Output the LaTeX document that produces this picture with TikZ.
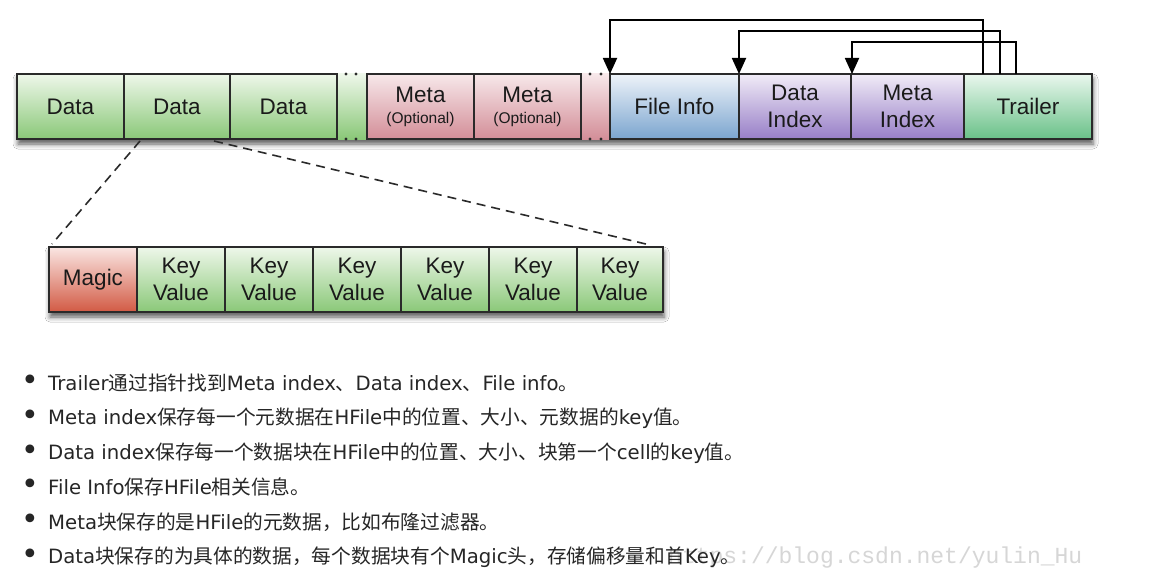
\documentclass[tikz,border=0pt]{standalone}
\usepackage{fontspec}
\setmainfont{Liberation Sans}
\newfontfamily\dv{DejaVu Sans}
\newfontfamily\cjk{Noto Sans CJK SC}
\newfontfamily\wm{Liberation Mono}
\usetikzlibrary{arrows.meta,shadows.blur}
\definecolor{greenT}{HTML}{EEF7EA}
\definecolor{greenB}{HTML}{8AC878}
\definecolor{pinkT}{HTML}{F7E8EA}
\definecolor{pinkB}{HTML}{D38E98}
\definecolor{blueT}{HTML}{EEF3F9}
\definecolor{blueB}{HTML}{7BA5CF}
\definecolor{purpT}{HTML}{F1ECF7}
\definecolor{purpB}{HTML}{977EC7}
\definecolor{trT}{HTML}{EAF7EE}
\definecolor{trB}{HTML}{69C188}
\definecolor{magT}{HTML}{FAE6E3}
\definecolor{magB}{HTML}{D25A44}
\definecolor{bord}{HTML}{2A2A2A}
\definecolor{txt}{HTML}{1A1A1A}
\definecolor{listtxt}{HTML}{262626}
\tikzset{
  cell/.style={draw=bord, line width=1.4pt, anchor=north west, inner sep=0pt, outer sep=0pt,
    minimum height=65pt, align=center, text=txt, font=\fontsize{22.5}{27}\selectfont},
  greencell/.style={top color=greenT, bottom color=greenB},
  pinkcell/.style={top color=pinkT, bottom color=pinkB},
  bluecell/.style={top color=blueT, bottom color=blueB},
  purpcell/.style={top color=purpT, bottom color=purpB},
  trcell/.style={top color=trT, bottom color=trB},
  magcell/.style={top color=magT, bottom color=magB},
  ptr/.style={draw=black, line width=1.8pt, -{Triangle[width=14pt,length=16pt]}},
  zoomline/.style={draw=bord, line width=1.6pt, dash pattern=on 9pt off 6pt},
  rowshadow/.style={fill=white, blur shadow={shadow xshift=1pt, shadow yshift=-5pt, shadow blur radius=5pt, shadow opacity=65}},
  gapdot/.style={fill=bord},
  bullet/.style={anchor=center, inner sep=0pt, text=listtxt, font=\dv\fontsize{30}{30}\selectfont},
  item/.style={anchor=west, inner sep=0pt, text=listtxt, font=\dv\fontsize{19.7}{19.7}\selectfont},
  watermark/.style={anchor=west, inner sep=0pt, text=black!16, font=\wm\fontsize{23}{23}\selectfont}
}
\begin{document}
\begin{tikzpicture}[x=1pt,y=-1pt]
\path[use as bounding box, fill=white] (0,0) rectangle (1159,586);

% shadows
\path[rowshadow] (17,74) rectangle (1092,139);
\path[rowshadow] (49,247) rectangle (663,312);

% gaps
\shade[top color=greenT, bottom color=greenB] (337,74) rectangle (367,139);
\shade[top color=pinkT, bottom color=pinkB] (581,74) rectangle (610,139);
\foreach \gx in {346,356,590,601}{
  \fill[gapdot] (\gx,74) circle (1.6);
  \fill[gapdot] (\gx,139) circle (1.6);
}

% top row
\node[cell, greencell, minimum width=107pt] (d1) at (17,74) {Data};
\node[cell, greencell, minimum width=106pt] (d2) at (124,74) {Data};
\node[cell, greencell, minimum width=107pt] (d3) at (230,74) {Data};
\node[cell, pinkcell, minimum width=107pt] (m1) at (367,74) {Meta\\[-6pt]{\fontsize{15.5}{18}\selectfont (Optional)}};
\node[cell, pinkcell, minimum width=107pt] (m2) at (474,74) {Meta\\[-6pt]{\fontsize{15.5}{18}\selectfont (Optional)}};
\node[cell, bluecell, minimum width=129pt] (fi) at (610,74) {File Info};
\node[cell, purpcell, minimum width=112pt] (di) at (739,74) {Data\\Index};
\node[cell, purpcell, minimum width=113pt] (mi) at (851,74) {Meta\\Index};
\node[cell, trcell, minimum width=128pt] (tr) at (964,74) {Trailer};

% pointers
\draw[ptr] ([xshift=19pt]tr.north west) -- ++(0,-54) -| (fi.north west);
\draw[ptr] ([xshift=36pt]tr.north west) -- ++(0,-43) -| (di.north west);
\draw[ptr] ([xshift=52pt]tr.north west) -- ++(0,-32) -| ([xshift=1pt]mi.north west);

% bottom row
\node[cell, magcell, minimum width=88pt] (mg) at (49,247) {Magic};
\node[cell, greencell, minimum width=88pt] (k1) at (137,247) {Key\\Value};
\node[cell, greencell, minimum width=88pt] (k2) at (225,247) {Key\\Value};
\node[cell, greencell, minimum width=88pt] (k3) at (313,247) {Key\\Value};
\node[cell, greencell, minimum width=88pt] (k4) at (401,247) {Key\\Value};
\node[cell, greencell, minimum width=88pt] (k5) at (489,247) {Key\\Value};
\node[cell, greencell, minimum width=86pt] (k6) at (577,247) {Key\\Value};

% zoom lines
\coordinate (z1) at (140,141);
\coordinate (z2) at (214,141);
\coordinate (z3) at (52,244);
\coordinate (z4) at (650,245);
\draw[zoomline] (z1) -- (z3);
\draw[zoomline] (z2) -- (z4);

% list
\node[watermark] (wm) at (668,558) {https://blog.csdn.net/yulin\_Hu};
\foreach \i/\yy in {1/383,2/418,3/453,4/487,5/522,6/557}{
  \node[bullet] (b\i) at (30,\yy) {•};
}
\node[item] (t1) at (48,383) {Trailer{\cjk 通过指针找到}Meta index{\cjk 、}Data index{\cjk 、}File info{\cjk 。}};
\node[item] (t2) at (48,418) {Meta index{\cjk 保存每一个元数据在}HFile{\cjk 中的位置、大小、元数据的}key{\cjk 值。}};
\node[item] (t3) at (48,453) {Data index{\cjk 保存每一个数据块在}HFile{\cjk 中的位置、大小、块第一个}cell{\cjk 的}key{\cjk 值。}};
\node[item] (t4) at (48,487) {File Info{\cjk 保存}HFile{\cjk 相关信息。}};
\node[item] (t5) at (48,522) {Meta{\cjk 块保存的是}HFile{\cjk 的元数据，比如布隆过滤器。}};
\node[item] (t6) at (48,557) {Data{\cjk 块保存的为具体的数据，每个数据块有个}Magic{\cjk 头，存储偏移量和首}Key{\cjk 。}};
\end{tikzpicture}
\end{document}
